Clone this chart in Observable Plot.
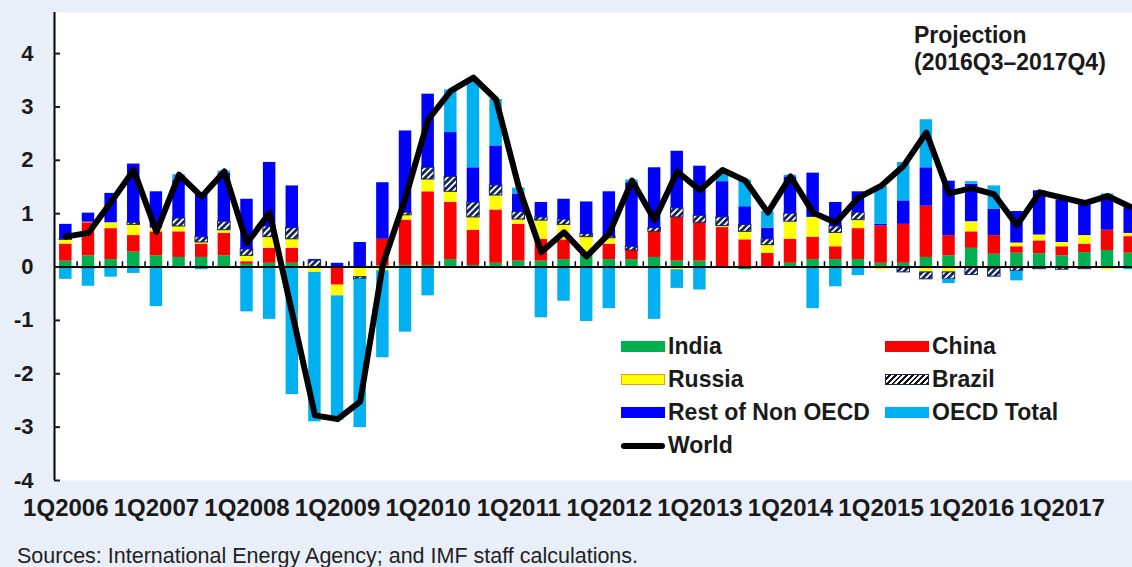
<!DOCTYPE html>
<html><head><meta charset="utf-8">
<script src="https://cdn.jsdelivr.net/npm/d3@7"></script>
<script src="https://cdn.jsdelivr.net/npm/@observablehq/plot@0.6"></script>
<style>
body{margin:0;background:#e9eff8;}
#wrap{position:relative;width:1132px;height:567px;overflow:hidden;background:#e9eff8;font-family:"Liberation Sans",Arial,sans-serif;color:#1a1a1a;}
#chart{position:absolute;left:0;top:0;width:1132px;height:530px;overflow:hidden;}
#proj{position:absolute;left:914px;top:22px;font-size:23px;font-weight:bold;line-height:27px;white-space:nowrap;}
#legend{position:absolute;left:0;top:330px;}
.item{position:absolute;height:33px;display:flex;align-items:center;font-size:23px;font-weight:bold;white-space:nowrap;}
.sw{width:44px;height:11px;margin-right:3px;box-sizing:border-box;}
#caption{position:absolute;left:17px;top:544px;font-size:21.5px;line-height:24px;white-space:nowrap;color:#222;}
#dbg{position:absolute;left:80px;top:20px;font-size:12px;color:#888;}
</style></head><body>
<div id="wrap">
<div id="chart"></div>
<div id="proj">Projection<br>(2016Q3–2017Q4)</div>
<div id="legend"></div>
<div id="caption">Sources: International Energy Agency; and IMF staff calculations.</div>
</div>
<script>
const quarters = ["1Q2006","2Q2006","3Q2006","4Q2006","1Q2007","2Q2007","3Q2007","4Q2007",
"1Q2008","2Q2008","3Q2008","4Q2008","1Q2009","2Q2009","3Q2009","4Q2009",
"1Q2010","2Q2010","3Q2010","4Q2010","1Q2011","2Q2011","3Q2011","4Q2011",
"1Q2012","2Q2012","3Q2012","4Q2012","1Q2013","2Q2013","3Q2013","4Q2013",
"1Q2014","2Q2014","3Q2014","4Q2014","1Q2015","2Q2015","3Q2015","4Q2015",
"1Q2016","2Q2016","3Q2016","4Q2016","1Q2017","2Q2017","3Q2017","4Q2017"];

const india = [0.11,0.21,0.14,0.28,0.21,0.18,0.18,0.21, 0.05,0.07,0.07,0,0,0,0.02,0.03, 0.03,0.14,0.03,0.07,0.11,0.11,0.14,0.2, 0.14,0.14,0.18,0.11,0.11,0,-0.05,0, 0.07,0.14,0.14,0.14,0.07,0.07,0.18,0.21, 0.35,0.24,0.26,0.25,0.21,0.27,0.31,0.26];
const china = [0.32,0.62,0.58,0.31,0.45,0.48,0.25,0.42, 0.05,0.28,0.28,0,-0.34,-0.02,0.5,0.85, 1.38,1.07,0.66,1.0,0.69,0.41,0.37,0.08, 0.29,0.17,0.48,0.82,0.72,0.74,0.51,0.26, 0.45,0.42,0.24,0.58,0.7,0.73,0.96,0.38, 0.31,0.35,0.12,0.24,0.17,0.16,0.38,0.31];
const russia = [0.08,0.01,0.11,0.2,0.07,0.1,0.03,0.06, 0.11,0.21,0.17,-0.1,-0.2,-0.17,-0.07,0.09, 0.23,0.2,0.24,0.27,0.09,0.35,0.28,0.28, 0.11,0,0,-0.05,0,0.03,0.15,0.15, 0.33,0.37,0.26,0.16,-0.05,0,-0.1,-0.1, 0.19,-0.03,0.07,0.11,0.08,0.16,-0.05,0.06];
const brazil = [0.01,-0.03,0,0.04,0,0.15,0.1,0.16, 0.12,0.2,0.21,0.12,0,-0.04,0,0.05, 0.22,0.28,0.28,0.19,0.14,0.06,0.1,0.06, 0.03,0.07,0.07,0.17,0.13,0.16,0.13,0.11, 0.15,0,0.12,0.14,0,-0.1,-0.13,-0.13, -0.15,-0.15,-0.08,-0.04,-0.05,-0.04,0,0];
const restNonOECD = [0.28,0.17,0.55,1.1,0.68,0.72,0.79,0.91, 0.94,1.2,0.79,0.02,0.07,0.46,1.06,1.53, 1.38,0.83,0.65,0.74,0.34,0.28,0.38,0.6, 0.84,1.2,1.13,1.07,0.93,0.67,0.34,0.21, 0.69,0.83,0.45,0.39,0.03,0.44,0.72,1.02, 0.7,0.49,0.59,0.83,0.8,0.6,0.63,0.53];
const oecdTotal = [-0.23,-0.33,-0.19,-0.12,-0.74,0.1,-0.05,0.04, -0.84,-0.98,-2.39,-2.8,-2.33,-2.78,-1.63,-1.22, -0.54,0.8,1.66,0.87,0.11,-0.95,-0.64,-1.02, -0.78,0.05,-0.98,-0.35,-0.43,0.2,0.5,0.31, 0.03,-0.78,-0.37,-0.16,0.71,0.72,0.9,-0.08, 0.05,0.44,-0.18,0,0,0,0.05,-0.05];
const world = [0.57,0.64,1.22,1.82,0.66,1.73,1.32,1.79, 0.45,1.02,-0.87,-2.78,-2.85,-2.52,0.05,1.3, 2.76,3.3,3.55,3.14,1.5,0.28,0.65,0.2, 0.63,1.62,0.88,1.79,1.44,1.82,1.62,1.02, 1.7,1.02,0.83,1.3,1.52,1.9,2.52,1.38, 1.48,1.36,0.78,1.4,1.3,1.2,1.33,1.13];

const seriesNames = ["India","China","Russia","Brazil","Rest of Non OECD","OECD Total"];
const seriesValues = [india, china, russia, brazil, restNonOECD, oecdTotal];
const seriesColors = ["#00b050","#ff0000","#ffff00","url(#hatch)","#0000ff","#00b0f0"];
const yTicks = [-4,-3,-2,-1,0,1,2,3,4];
const yDomain = [-4, 4.77];

const rows = [];
seriesNames.forEach((s, k) => quarters.forEach((q, i) => rows.push({q, series: s, value: seriesValues[k][i], fill: seriesColors[k]})));
const worldRows = quarters.map((q, i) => ({q, v: world[i]}));

const W = 1132, mL = 54, xEnd = 1141;
const half = (xEnd - mL) / quarters.length / 2;

const chart = Plot.plot({
  width: W, height: 530,
  marginLeft: mL, marginRight: 0, marginTop: 12, marginBottom: 50,
  style: {background: "#e9eff8", fontFamily: "Liberation Sans, Arial, sans-serif", overflow: "hidden"},
  x: {domain: quarters, range: [mL, xEnd], paddingInner: 0.45, paddingOuter: 0.225, align: 0.5},
  y: {domain: yDomain},
  color: {type: "identity"},
  marks: [
    Plot.frame({fill: "white", stroke: "none"}),
    Plot.barY(rows, Plot.stackY({x: "q", y: "value", z: "series", fill: "fill",
      stroke: d => d.series === "Brazil" ? "#14245c" : "none", strokeWidth: 1})),
    Plot.ruleY([0], {stroke: "black", strokeWidth: 2}),
    Plot.ruleX(quarters, {x: d => d, y1: 0, y2: 0.1, dx: half, stroke: "black", strokeWidth: 1.5}),
    Plot.ruleX([quarters[0]], {x: d => d, y1: yDomain[0], y2: yDomain[1], dx: -half, stroke: "black", strokeWidth: 2}),
    Plot.line(worldRows, {x: "q", y: "v", stroke: "black", strokeWidth: 6, strokeLinejoin: "round", strokeLinecap: "round"}),
    Plot.axisY(yTicks, {anchor: "left", tickSize: -6, tickPadding: 27, strokeWidth: 2, marginLeft: mL, tickFormat: d => String(d), fontSize: 22, fontWeight: "bold"}),
    Plot.axisX({anchor: "bottom", tickSize: 0, tickPadding: 18, label: null, marginBottom: 50, tickFormat: q => q.startsWith("1Q") ? q : "", fontSize: 24, fontWeight: "bold"})
  ]
});
chart.insertAdjacentHTML("afterbegin",
  '<defs><pattern id="hatch" patternUnits="userSpaceOnUse" width="4.5" height="4.5" patternTransform="rotate(45)">' +
  '<rect width="4.5" height="4.5" fill="#14245c"/><rect x="0" y="0" width="1.8" height="4.5" fill="white"/></pattern></defs>');
document.getElementById("chart").appendChild(chart);

// legend
const legendItems = [
  {name: "India", col: 0, row: 0}, {name: "China", col: 1, row: 0},
  {name: "Russia", col: 0, row: 1}, {name: "Brazil", col: 1, row: 1},
  {name: "Rest of Non OECD", col: 0, row: 2}, {name: "OECD Total", col: 1, row: 2},
  {name: "World", col: 0, row: 3}
];
const colLeft = [621, 885];
const legend = document.getElementById("legend");
legendItems.forEach(it => {
  const d = document.createElement("div");
  d.className = "item";
  d.style.left = colLeft[it.col] + "px";
  d.style.top = (it.row * 33) + "px";
  const sw = document.createElement("div");
  sw.className = "sw";
  if (it.name === "World") {
    sw.style.height = "6px"; sw.style.background = "black"; sw.style.borderRadius = "3px";
  } else if (it.name === "Brazil") {
    sw.style.border = "1.5px solid #14245c";
    sw.style.background = "repeating-linear-gradient(135deg, #fff 0 2px, #111 2px 4px)";
  } else if (it.name === "Russia") {
    sw.style.background = seriesColors[seriesNames.indexOf(it.name)];
    sw.style.border = "1.5px solid #f0a000";
  } else {
    sw.style.background = seriesColors[seriesNames.indexOf(it.name)];
  }
  d.appendChild(sw);
  const t = document.createElement("span");
  t.textContent = it.name;
  d.appendChild(t);
  legend.appendChild(d);
});
</script>
</body></html>
